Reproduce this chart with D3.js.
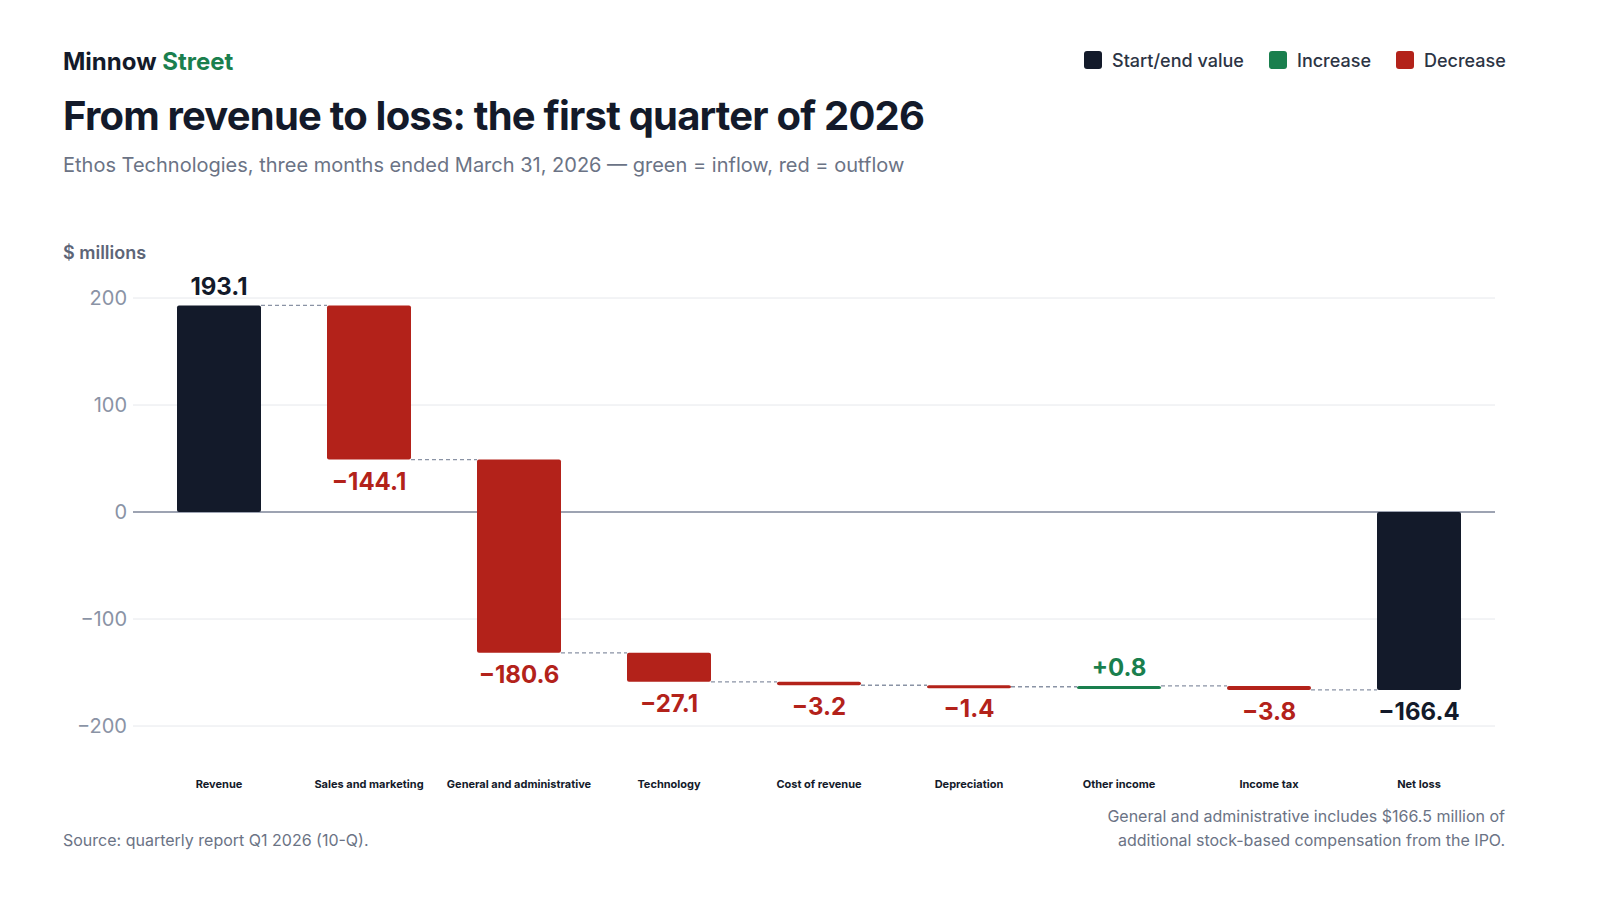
<!DOCTYPE html>
<html><head><meta charset="utf-8">
<script src="https://cdn.jsdelivr.net/npm/d3@7"></script>
<style>body{margin:0;background:#fff;font-family:Inter,"Noto Sans",sans-serif}</style>
</head><body><svg id="c" width="1600" height="900"></svg>
<script>
const categories = ["Revenue","Sales and marketing","General and administrative","Technology","Cost of revenue","Depreciation","Other income","Income tax","Net loss"];
const deltas = [193.1,-144.1,-180.6,-27.1,-3.2,-1.4,0.8,-3.8,-166.4];
const kinds = ["total","step","step","step","step","step","step","step","total"];
const yTicks = [200,100,0,-100,-200];

const colors = {total:"#131a2a", up:"#1a7f4e", down:"#b3221a"};
const svg = d3.select("#c");

// running totals
let run = 0;
const bars = categories.map((c,i) => {
  let y0, y1, kind;
  if (kinds[i] === "total") { y0 = 0; y1 = deltas[i]; run = deltas[i]; kind = "total"; }
  else { y0 = run; run += deltas[i]; y1 = run; kind = deltas[i] >= 0 ? "up" : "down"; }
  return {c, v: deltas[i], y0, y1, kind};
});

const x = d3.scaleBand().domain(categories).range([144,1494]).paddingInner(0.44).paddingOuter(0.22);
const y = d3.scaleLinear().domain([-200,200]).range([726,298]);

// header
svg.append("text").attr("x",63).attr("y",70).attr("font-size",24).attr("font-weight",700).attr("fill","#131a2a")
  .text("Minnow ").append("tspan").attr("fill","#1a7f4e").text("Street");
svg.append("text").attr("x",63).attr("y",130).attr("font-size",40).attr("font-weight",700).attr("fill","#131a2a").attr("letter-spacing",-0.8)
  .text("From revenue to loss: the first quarter of 2026");
svg.append("text").attr("x",63).attr("y",172).attr("font-size",20).attr("fill","#6b7385")
  .text("Ethos Technologies, three months ended March 31, 2026 — green = inflow, red = outflow");
svg.append("text").attr("x",63).attr("y",259).attr("font-size",18).attr("font-weight",600).attr("fill","#5d6577").text("$ millions");

// legend
const legend = [["Start/end value",colors.total,1084],["Increase",colors.up,1269],["Decrease",colors.down,1396]];
legend.forEach(([t,col,lx]) => {
  svg.append("rect").attr("x",lx).attr("y",51).attr("width",18).attr("height",18).attr("rx",3).attr("fill",col);
  svg.append("text").attr("x",lx+28).attr("y",67).attr("font-size",18).attr("font-weight",500).attr("fill","#2c3444").text(t);
});

// grid + ticks
const g = svg.append("g");
g.selectAll("line.grid").data(yTicks).join("line")
  .attr("x1",133).attr("x2",1495).attr("y1",d=>y(d)).attr("y2",d=>y(d))
  .attr("stroke",d=>d===0?"#7c8598":"#e6e8ec").attr("stroke-width",d=>d===0?1.5:1);
g.selectAll("text.tick").data(yTicks).join("text")
  .attr("x",127).attr("y",d=>y(d)+7).attr("text-anchor","end").attr("font-size",20).attr("fill","#8a93a5")
  .text(d=>d<0?"\u2212"+Math.abs(d):d);

// connectors
for (let i=0;i<bars.length-1;i++){
  const b = bars[i], end = b.y1;
  svg.append("line").attr("x1",x(b.c)+x.bandwidth()).attr("x2",x(bars[i+1].c))
    .attr("y1",y(end)).attr("y2",y(end)).attr("stroke","#8a93a5").attr("stroke-width",1.3).attr("stroke-dasharray","4,3");
}

// bars
svg.selectAll("rect.bar").data(bars).join("rect")
  .attr("x",d=>x(d.c)).attr("width",x.bandwidth())
  .attr("y",d=>y(Math.max(d.y0,d.y1))).attr("height",d=>Math.max(3,Math.abs(y(d.y0)-y(d.y1))))
  .attr("rx",2).attr("fill",d=>colors[d.kind]);

// value labels
svg.selectAll("text.val").data(bars).join("text")
  .attr("x",d=>x(d.c)+x.bandwidth()/2)
  .attr("y",d=>d.v>=0? y(Math.max(d.y0,d.y1))-10 : y(Math.min(d.y0,d.y1))+30)
  .attr("text-anchor","middle").attr("font-size",24).attr("font-weight",700)
  .attr("fill",d=>colors[d.kind])
  .text(d=>{ const s=Math.abs(d.v).toFixed(1); return d.kind==="total"?(d.v<0?"\u2212"+s:s):(d.v<0?"\u2212"+s:"+"+s); });

// category labels
svg.selectAll("text.cat").data(bars).join("text")
  .attr("x",d=>x(d.c)+x.bandwidth()/2).attr("y",788).attr("text-anchor","middle")
  .attr("font-size",11).attr("font-weight",700).attr("fill","#131a2a").text(d=>d.c);

// footer
svg.append("text").attr("x",63).attr("y",846).attr("font-size",16).attr("fill","#6b7385").text("Source: quarterly report Q1 2026 (10-Q).");
svg.append("text").attr("x",1505).attr("y",822).attr("text-anchor","end").attr("font-size",16).attr("fill","#6b7385").text("General and administrative includes $166.5 million of");
svg.append("text").attr("x",1505).attr("y",846).attr("text-anchor","end").attr("font-size",16).attr("fill","#6b7385").text("additional stock-based compensation from the IPO.");
</script></body></html>
